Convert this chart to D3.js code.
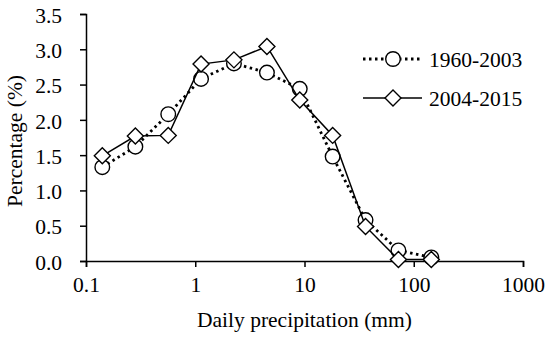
<!DOCTYPE html>
<html>
<head>
<meta charset="utf-8">
<script src="https://cdn.jsdelivr.net/npm/d3@7"></script>
<style>
  body { margin: 0; background: #fff; }
  text { font-family: "Liberation Serif", "Times New Roman", serif; fill: #000; }
</style>
</head>
<body>
<svg id="chart" width="550" height="339"></svg>
<script>
// Bin centres (mm) and percentages
const precip = [0.141, 0.283, 0.566, 1.13, 2.26, 4.53, 9.05, 18.1, 36.2, 72.4, 144.8];
const pctEarly = [1.33, 1.62, 2.08, 2.58, 2.80, 2.67, 2.44, 1.48, 0.58, 0.15, 0.05];
const pctLate = [1.49, 1.77, 1.78, 2.79, 2.85, 3.04, 2.28, 1.78, 0.49, 0.02, 0.02];
const seriesNames = ["1960-2003", "2004-2015"];
const xTicks = [0.1, 1, 10, 100, 1000];
const yTicks = [0, 0.5, 1, 1.5, 2, 2.5, 3, 3.5];

const svg = d3.select("#chart");
const margin = { top: 14, right: 27, bottom: 78, left: 86 };
const width = 550 - margin.left - margin.right;
const height = 339 - margin.top - margin.bottom;
const fontSize = "21.5px";

const g = svg.append("g").attr("transform", `translate(${margin.left},${margin.top})`);

const x = d3.scaleLog().domain([0.1, 1000]).range([0, width]);
const y = d3.scaleLinear().domain([0, 3.5]).range([height, 0]);

// Axes
const xAxis = g.append("g")
    .attr("transform", `translate(0,${height})`)
    .call(d3.axisBottom(x).tickValues(xTicks).tickFormat(d3.format("~g")).tickSize(6).tickPadding(10));
const yAxis = g.append("g")
    .call(d3.axisLeft(y).tickValues(yTicks).tickFormat(d3.format(".1f")).tickSize(6).tickPadding(18));

[xAxis, yAxis].forEach(a => {
    a.attr("font-family", "Liberation Serif, serif").attr("font-size", 21.5);
    a.select(".domain").attr("stroke", "#000").attr("stroke-width", 1.5);
    a.selectAll(".tick line").attr("stroke", "#000").attr("stroke-width", 1.5);
    a.selectAll(".tick text").style("font-size", fontSize);
});
yAxis.selectAll(".tick text").attr("dy", "0.38em");

// Axis titles
svg.append("text")
    .attr("x", margin.left + x(10)).attr("y", 327)
    .attr("text-anchor", "middle")
    .style("font-size", fontSize)
    .text("Daily precipitation (mm)");
svg.append("text")
    .attr("transform", `translate(22,141) rotate(-90)`)
    .attr("text-anchor", "middle")
    .style("font-size", fontSize)
    .text("Percentage (%)");

const line = d3.line().x(d => x(d[0])).y(d => y(d[1]));
const early = precip.map((p, i) => [p, pctEarly[i]]);
const late = precip.map((p, i) => [p, pctLate[i]]);

const diamond = s => `M0,${-s}L${s},0L0,${s}L${-s},0Z`;

// 1960-2003: dotted line with circles
g.append("path").datum(early)
    .attr("d", line).attr("fill", "none").attr("stroke", "#000")
    .attr("stroke-width", 2.8).attr("stroke-dasharray", "2.5,3.5");
g.selectAll(".circ").data(early).enter().append("circle")
    .attr("cx", d => x(d[0])).attr("cy", d => y(d[1])).attr("r", 7.3)
    .attr("fill", "#fff").attr("stroke", "#000").attr("stroke-width", 1.4);

// 2004-2015: solid line with diamonds
g.append("path").datum(late)
    .attr("d", line).attr("fill", "none").attr("stroke", "#000").attr("stroke-width", 1.5);
g.selectAll(".diam").data(late).enter().append("path")
    .attr("transform", d => `translate(${x(d[0])},${y(d[1])})`)
    .attr("d", diamond(8)).attr("fill", "#fff").attr("stroke", "#000").attr("stroke-width", 1.4);

// Legend
const leg = svg.append("g");
const legRows = [59, 98];
seriesNames.forEach((name, i) => {
    const ly = legRows[i];
    leg.append("line").attr("x1", 363).attr("x2", 422).attr("y1", ly).attr("y2", ly)
        .attr("stroke", "#000")
        .attr("stroke-width", i === 0 ? 2.8 : 1.5)
        .attr("stroke-dasharray", i === 0 ? "2.5,3.5" : null);
    if (i === 0) {
        leg.append("circle").attr("cx", 393).attr("cy", ly).attr("r", 7.3)
            .attr("fill", "#fff").attr("stroke", "#000").attr("stroke-width", 1.4);
    } else {
        leg.append("path").attr("transform", `translate(393,${ly})`).attr("d", diamond(8))
            .attr("fill", "#fff").attr("stroke", "#000").attr("stroke-width", 1.4);
    }
    leg.append("text").attr("x", 429).attr("y", ly + 7.5)
        .style("font-size", fontSize).text(name);
});
</script>
</body>
</html>
